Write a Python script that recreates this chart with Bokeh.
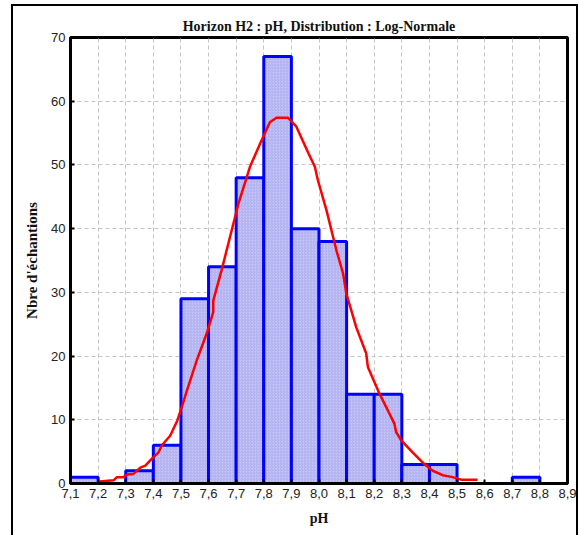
from bokeh.plotting import figure
from bokeh.models import FixedTicker, Range1d, Title
from bokeh.embed import file_html
from bokeh.resources import INLINE

# ---- data ----
bin_left = [7.1, 7.2, 7.3, 7.4, 7.5, 7.6, 7.7, 7.8, 7.9, 8.0, 8.1, 8.2, 8.3, 8.4, 8.5, 8.6, 8.7, 8.8]
counts = [1, 0, 2, 6, 29, 34, 48, 67, 40, 38, 14, 14, 3, 3, 0, 0, 1, 0]
bin_width = 0.1

curve_x = [7.206, 7.256, 7.268, 7.292, 7.305, 7.328, 7.353, 7.371, 7.395, 7.419, 7.431,
           7.461, 7.487, 7.503, 7.521, 7.557, 7.593, 7.617, 7.617, 7.648, 7.690, 7.708,
           7.750, 7.786, 7.822, 7.846, 7.888, 7.918, 7.960, 7.985, 7.996, 8.027, 8.051,
           8.063, 8.087, 8.099, 8.135, 8.171, 8.177, 8.219, 8.249, 8.273, 8.279, 8.297,
           8.339, 8.375, 8.412, 8.448, 8.484, 8.514, 8.574]
curve_y = [0.3, 0.5, 1.0, 1.0, 1.4, 1.5, 2.5, 2.8, 3.9, 4.9, 6.0,
           7.5, 9.9, 12.0, 14.5, 19.3, 23.5, 26.9, 28.7, 33.6, 40.8, 43.9,
           49.7, 53.3, 56.7, 57.4, 57.4, 56.0, 52.0, 49.7, 47.6, 42.9, 38.7,
           36.6, 33.0, 29.8, 24.5, 20.4, 18.3, 14.1, 11.5, 9.4, 8.1, 6.8,
           4.9, 3.3, 2.0, 1.3, 1.0, 0.6, 0.6]

x_ticks = [7.1, 7.2, 7.3, 7.4, 7.5, 7.6, 7.7, 7.8, 7.9, 8.0, 8.1, 8.2, 8.3, 8.4, 8.5, 8.6, 8.7, 8.8, 8.9]
x_tick_labels = ["7,1", "7,2", "7,3", "7,4", "7,5", "7,6", "7,7", "7,8", "7,9", "8,0",
                 "8,1", "8,2", "8,3", "8,4", "8,5", "8,6", "8,7", "8,8", "8,9"]
y_ticks = [0, 10, 20, 30, 40, 50, 60, 70]

title_text = "Horizon H2 : pH, Distribution : Log-Normale"
x_label = "pH"
y_label = "Nbre d'échantions"

# ---- figure ----
p = figure(width=580, height=535, output_backend="svg", toolbar_location=None,
           x_range=Range1d(7.1, 8.9), y_range=Range1d(0, 70),
           min_border_left=70, min_border_right=13, min_border_top=37, min_border_bottom=52,
           background_fill_color="white", border_fill_alpha=0)

# outer frame of the whole chart (page background behind the transparent border area)
p.styles = {
    "background-color": "white",
    "background-image": ("linear-gradient(#000,#000), linear-gradient(#000,#000), "
                         "linear-gradient(#000,#000)"),
    "background-position": "11px 4px, 11px 4px, 576px 4px",
    "background-size": "2px 600px, 567px 2px, 2px 600px",
    "background-repeat": "no-repeat",
}

p.title = Title(text=title_text, align="center", text_font="Liberation Serif",
                text_font_style="bold", text_font_size="14px", text_color="#111111",
                standoff=8)

# bars (non-zero)
lefts = [l for l, c in zip(bin_left, counts) if c > 0]
tops = [c for c in counts if c > 0]
rights = [l + bin_width for l in lefts]
p.quad(left=lefts, right=rights, bottom=0, top=tops,
       fill_color="#c8c8fa", line_color="#0000ff", line_width=3,
       hatch_pattern="right_diagonal_line", hatch_color="#9898e6",
       hatch_scale=3, hatch_weight=0.6)

p.line(curve_x, curve_y, line_color="#ff0000", line_width=2.5)

# grid
for g in (p.xgrid, p.ygrid):
    g.grid_line_color = "#c4c4c4"
    g.grid_line_dash = "4 3"
    g.grid_line_width = 1
p.xgrid.ticker = FixedTicker(ticks=x_ticks)
p.ygrid.ticker = FixedTicker(ticks=y_ticks)

# axes
xa = p.below[0]
xa.ticker = FixedTicker(ticks=x_ticks)
xa.major_label_overrides = {t: s for t, s in zip(x_ticks, x_tick_labels)}
ya = p.left[0]
ya.ticker = FixedTicker(ticks=y_ticks)
for ax in (xa, ya):
    ax.axis_line_color = "black"
    ax.axis_line_width = 3
    ax.major_tick_in = 4
    ax.major_tick_out = 0
    ax.major_tick_line_width = 2
    ax.minor_tick_line_color = None
    ax.major_label_text_font = "Liberation Sans"
    ax.major_label_text_font_size = "13px"
    ax.major_label_text_color = "#222222"
    ax.axis_label_text_font = "Liberation Serif"
    ax.axis_label_text_font_style = "bold"
    ax.axis_label_text_font_size = "14px"
    ax.axis_label_text_color = "#111111"
xa.axis_label = x_label
ya.axis_label = y_label
ya.axis_label_text_font_size = "15px"
xa.major_label_standoff = 5
ya.major_label_standoff = 5
xa.axis_label_standoff = 10
ya.axis_label_standoff = 8

p.outline_line_color = "black"
p.outline_line_width = 3
p.outline_line_alpha = 1

out = file_html(p, INLINE)
open("out.html", "w").write(out)
